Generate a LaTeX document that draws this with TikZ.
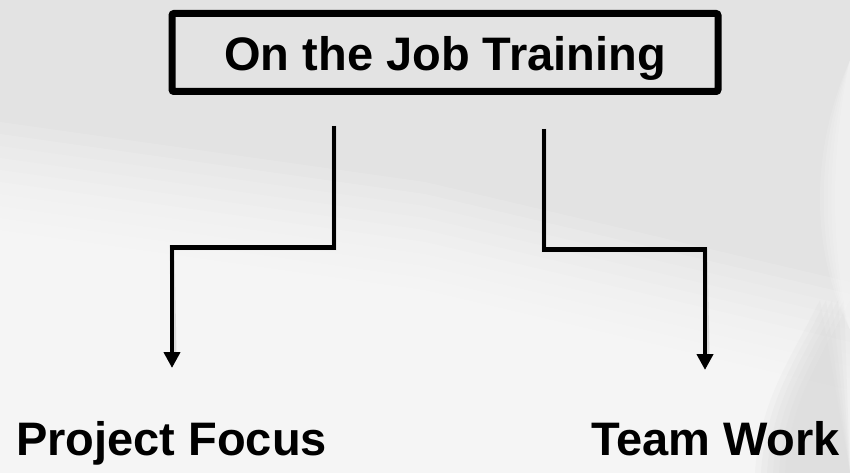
\documentclass[tikz,border=0pt]{standalone}
\usepackage{fontspec}
\setmainfont{Liberation Sans}
\usetikzlibrary{arrows.meta}
\definecolor{bgtop}{RGB}{227,227,227}
\definecolor{bgdark}{RGB}{214,214,214}
\begin{document}
\begin{tikzpicture}[x=1pt,y=-1pt,
  conn/.style={line width=4.5pt, black, line join=miter},
  arr/.style={-{Triangle[width=16pt,length=16pt]}},
  shadowline/.style={line width=5pt, black!60, opacity=0.18, line join=miter},
  titlebox/.style={draw, line width=7pt, rounded corners=2pt, minimum width=546pt,
    minimum height=78pt, inner sep=0pt, text height=37pt, text depth=0pt,
    font=\fontsize{47}{56}\selectfont\bfseries},
  lbl/.style={anchor=base, inner sep=0pt, font=\fontsize{47}{56}\selectfont\bfseries}]
\useasboundingbox (0,0) rectangle (850,473);
% background
\fill[bgtop] (0,0) rectangle (850,473);
\foreach \d in {0,12,...,108}{
  \fill[white, opacity=0.13] (0,230-\d) -- (425,290-\d) -- (850,390-\d) -- (850,473) -- (0,473) -- cycle;
}
\foreach \d in {0,6,...,30}{
  \fill[bgdark, opacity=0.16] (850-\d,300) .. controls (820-\d,360) and (790-\d,400) .. (785-\d,473) -- (850,473) -- cycle;
}
\foreach \d in {0,5,...,20}{
  \fill[white, opacity=0.12] (850,60) .. controls (830-\d,150) and (830-\d,250) .. (850,330) -- cycle;
}
% title
\node[titlebox] (title) at (445,52.5) {On the Job Training};
% connector coordinates
\coordinate (s1) at (334,126);
\coordinate (k1) at (334,247.5);
\coordinate (k2) at (172,247.5);
\coordinate (e1) at (172,368);
\coordinate (s2) at (544,129);
\coordinate (k3) at (544,249.5);
\coordinate (k4) at (705,249.5);
\coordinate (e2) at (705,370);
% shadows
\begin{scope}[xshift=2pt,yshift=-2pt]
\draw[shadowline] (s1) -- (k1) -- (k2) -- (172,352);
\draw[shadowline] (s2) -- (k3) -- (k4) -- (705,354);
\end{scope}
% connectors
\draw[conn,arr] (s1) -- (k1) -- (k2) -- (e1);
\draw[conn,arr] (s2) -- (k3) -- (k4) -- (e2);
% labels
\node[lbl] (pf) at (171.5,455) {Project Focus};
\node[lbl] (tw) at (715.5,455) {Team Work};
\end{tikzpicture}
\end{document}
